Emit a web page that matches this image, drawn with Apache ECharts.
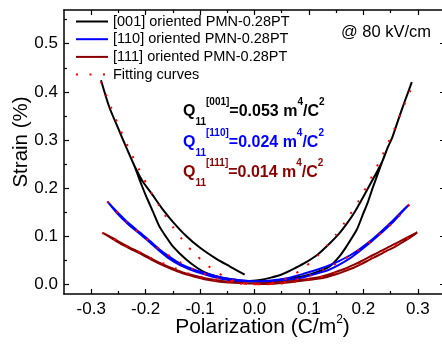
<!DOCTYPE html>
<html>
<head>
<meta charset="utf-8">
<script src="https://cdn.jsdelivr.net/npm/echarts@6/dist/echarts.min.js"></script>
<style>html,body{margin:0;padding:0;background:#fff}#c{width:442px;height:345px}</style>
</head>
<body>
<div id="c"></div>
<script>
// ---- tick labels ----
const xTickLabels = [-0.3, -0.2, -0.1, 0, 0.1, 0.2, 0.3];
const xMinorTicks = [-0.25, -0.15, -0.05, 0.05, 0.15, 0.25];
const yTickLabels = [0, 0.1, 0.2, 0.3, 0.4, 0.5];
const yMinorTicks = [0.05, 0.15, 0.25, 0.35, 0.45, 0.55];

// ---- legend names ----
const seriesNames = ['[001] oriented PMN-0.28PT', '[110] oriented PMN-0.28PT', '[111] oriented PMN-0.28PT', 'Fitting curves'];

// ---- measured strain loops [P (C/m2), strain (%)] ----
const loop001 = [
  [-0.018,0.020],[-0.045,0.037],[-0.070,0.053],[-0.100,0.076],[-0.125,0.100],[-0.150,0.130],[-0.170,0.158],[-0.190,0.190],
  [-0.205,0.213],[-0.220,0.245],[-0.235,0.283],[-0.250,0.323],[-0.267,0.369],[-0.282,0.424],
  [-0.267,0.369],[-0.250,0.323],[-0.235,0.283],[-0.220,0.244],[-0.208,0.208],[-0.199,0.183],[-0.187,0.152],[-0.175,0.121],
  [-0.162,0.098],[-0.150,0.079],[-0.126,0.052],[-0.105,0.034],[-0.089,0.024],[-0.065,0.015],[-0.046,0.011],[-0.025,0.008],
  [-0.009,0.007],[0.010,0.006],[0.030,0.007],[0.050,0.010],[0.075,0.014],[0.100,0.020],[0.120,0.028],[0.138,0.037],
  [0.156,0.058],[0.169,0.079],[0.188,0.114],[0.199,0.145],[0.208,0.170],[0.217,0.200],[0.226,0.228],[0.235,0.256],
  [0.245,0.285],[0.253,0.305],[0.266,0.348],[0.277,0.383],[0.289,0.420],
  [0.277,0.383],[0.266,0.348],[0.253,0.305],[0.245,0.285],[0.235,0.256],[0.224,0.232],[0.212,0.207],[0.199,0.180],
  [0.185,0.152],[0.169,0.125],[0.155,0.105],[0.138,0.085],[0.116,0.062],[0.095,0.046],[0.075,0.034],[0.051,0.021],
  [0.030,0.014],[0.010,0.009],[-0.009,0.007],[-0.030,0.006],[-0.050,0.006]
];
const loop110 = [
  [-0.270,0.172],[-0.251,0.149],[-0.233,0.129],[-0.211,0.108],[-0.193,0.091],[-0.175,0.073],[-0.156,0.057],[-0.135,0.042],
  [-0.107,0.029],[-0.080,0.020],[-0.058,0.014],[-0.030,0.009],[-0.009,0.007],[0.010,0.006],
  [0.030,0.005],[0.060,0.009],[0.090,0.015],[0.119,0.024],[0.138,0.031],[0.156,0.041],[0.175,0.054],[0.194,0.070],
  [0.215,0.089],[0.233,0.107],[0.253,0.128],[0.271,0.150],[0.284,0.166],
  [0.271,0.152],[0.253,0.131],[0.233,0.110],[0.215,0.092],[0.194,0.074],[0.175,0.060],[0.156,0.049],[0.138,0.040],
  [0.119,0.032],[0.090,0.022],[0.060,0.013],[0.030,0.008],[0.000,0.006],[-0.030,0.007],
  [-0.058,0.011],[-0.080,0.017],[-0.107,0.026],[-0.135,0.039],[-0.156,0.053],[-0.175,0.070],[-0.193,0.088],
  [-0.211,0.105],[-0.233,0.126],[-0.251,0.146],[-0.270,0.172]
];
const loop111 = [
  [-0.279,0.107],[-0.260,0.096],[-0.242,0.084],[-0.223,0.073],[-0.205,0.063],[-0.187,0.052],[-0.169,0.042],[-0.150,0.033],
  [-0.132,0.025],[-0.110,0.018],[-0.089,0.012],[-0.067,0.008],[-0.046,0.005],[-0.025,0.003],[-0.009,0.002],[0.010,0.001],
  [0.030,0.001],[0.050,0.003],[0.070,0.005],[0.090,0.008],[0.119,0.012],[0.135,0.016],[0.150,0.021],[0.165,0.027],
  [0.181,0.034],[0.196,0.042],[0.211,0.051],[0.227,0.060],[0.242,0.069],[0.258,0.078],[0.273,0.088],[0.287,0.098],[0.299,0.108],
  [0.287,0.101],[0.273,0.093],[0.258,0.084],[0.242,0.075],[0.227,0.066],[0.211,0.057],[0.196,0.048],[0.181,0.040],
  [0.165,0.032],[0.150,0.026],[0.135,0.020],[0.119,0.015],[0.090,0.010],[0.070,0.007],[0.050,0.005],[0.030,0.003],
  [0.000,0.002],[-0.030,0.003],[-0.046,0.004],[-0.067,0.006],[-0.089,0.010],[-0.110,0.016],[-0.132,0.023],[-0.150,0.031],
  [-0.169,0.040],[-0.187,0.050],[-0.205,0.061],[-0.223,0.071],[-0.242,0.082],[-0.260,0.094],[-0.279,0.107]
];

// ---- fitting curves ----
const fit001 = [
  [-0.282,0.421],[-0.28,0.415],[-0.26,0.358],[-0.24,0.305],[-0.22,0.257],[-0.20,0.212],[-0.18,0.172],[-0.16,0.136],
  [-0.14,0.104],[-0.12,0.076],[-0.10,0.053],[-0.08,0.034],[-0.06,0.019],[-0.04,0.008],[-0.02,0.002],[0.00,0.000],
  [0.02,0.001],[0.04,0.005],[0.06,0.013],[0.08,0.026],[0.10,0.043],[0.12,0.064],[0.14,0.090],[0.16,0.119],
  [0.18,0.153],[0.20,0.191],[0.22,0.234],[0.24,0.280],[0.26,0.331],[0.28,0.386],[0.292,0.415]
];
const fit110 = [
  [-0.27,0.172],[-0.25,0.147],[-0.23,0.125],[-0.21,0.105],[-0.19,0.087],[-0.17,0.070],[-0.15,0.055],[-0.13,0.042],
  [-0.11,0.030],[-0.09,0.021],[-0.07,0.013],[-0.05,0.008],[-0.03,0.004],[-0.01,0.001],[0.01,0.000],[0.03,0.001],
  [0.05,0.004],[0.07,0.008],[0.09,0.014],[0.11,0.022],[0.13,0.032],[0.15,0.043],[0.17,0.056],[0.19,0.070],
  [0.21,0.086],[0.23,0.104],[0.25,0.124],[0.27,0.147],[0.285,0.166]
];
const fit111 = [
  [-0.28,0.107],[-0.26,0.095],[-0.24,0.083],[-0.22,0.072],[-0.20,0.060],[-0.18,0.050],[-0.16,0.040],[-0.14,0.031],
  [-0.12,0.022],[-0.10,0.016],[-0.08,0.010],[-0.06,0.006],[-0.04,0.003],[-0.02,0.001],[0.00,0.000],[0.02,0.000],
  [0.04,0.001],[0.06,0.003],[0.08,0.006],[0.10,0.010],[0.12,0.015],[0.14,0.021],[0.16,0.028],[0.18,0.036],
  [0.20,0.047],[0.22,0.058],[0.24,0.071],[0.26,0.082],[0.28,0.095],[0.30,0.109]
];

const FONT = "'Liberation Sans', Arial, sans-serif";
const colors = ['#000000', '#0000ff', '#8b0000', '#ff0000'];

function fmt(v){ return (Math.abs(v) < 1e-9 ? 0 : v).toFixed(1); }

const axLine = {show:true, onZero:false, lineStyle:{color:'#000', width:1.5}};
function xAx(pos, ticks, len, lineShow, labels){
  return {
    type:'value', position:pos, min:-0.35, max:0.35, nameMoveOverlap:false,
    axisLine: lineShow ? axLine : {show:false, onZero:false},
    axisTick:{show:true, inside:true, length:len, customValues:ticks, lineStyle:{color:'#000', width:1.2}},
    axisLabel: labels ? {show:true, customValues:ticks, formatter:fmt, fontSize:17, fontFamily:FONT, color:'#000', margin:7} : {show:false},
    splitLine:{show:false}
  };
}
function yAx(pos, ticks, len, lineShow, labels){
  return {
    type:'value', position:pos, min:-0.02, max:0.57, nameMoveOverlap:false,
    axisLine: lineShow ? axLine : {show:false, onZero:false},
    axisTick:{show:true, inside:true, length:len, customValues:ticks, lineStyle:{color:'#000', width:1.2}},
    axisLabel: labels ? {show:true, customValues:ticks, formatter:fmt, fontSize:17, fontFamily:FONT, color:'#000', margin:6} : {show:false},
    splitLine:{show:false}
  };
}

const xAxes = [
  xAx('bottom', xTickLabels, 5, true, true),
  xAx('bottom', xMinorTicks, 3, false, false),
  xAx('top', xTickLabels, 5, true, false),
  xAx('top', xMinorTicks, 3, false, false)
];
Object.assign(xAxes[0], {
  name:'Polarization (C/m{sup|2})', nameLocation:'middle', nameGap:20,
  nameTextStyle:{fontSize:21, fontFamily:FONT, color:'#000', lineHeight:26, padding:[0,0,0,16],
    rich:{sup:{fontSize:12, fontFamily:FONT, color:'#000', verticalAlign:'top', lineHeight:10}}}
});
const yAxes = [
  yAx('left', yTickLabels, 5, true, true),
  yAx('left', yMinorTicks, 3, false, false),
  yAx('right', yTickLabels, 5, true, false),
  yAx('right', yMinorTicks, 3, false, false)
];
Object.assign(yAxes[0], {
  name:'Strain (%)', nameLocation:'middle', nameGap:32,
  nameTextStyle:{fontSize:20.5, fontFamily:FONT, color:'#000', padding:[0,0,0,20]}
});

function dataSeries(name, data, color){
  return {name, type:'line', data, xAxisIndex:0, yAxisIndex:0, symbol:'none', showSymbol:false,
    smooth:0.25, lineStyle:{color, width:2}, itemStyle:{color}, z:2};
}
function fitSeries(data){
  return {name:seriesNames[3], type:'line', data, xAxisIndex:0, yAxisIndex:0, symbol:'none', showSymbol:false,
    smooth:true, lineStyle:{color:colors[3], width:2, type:[2, 11.5], cap:'butt'}, itemStyle:{color:colors[3]}, z:5};
}

function qText(label, value){
  return '{q|Q}{sub|11}{sup|' + label + '}{m|=' + value + ' m}{sup|4}{m|/C}{sup|2}';
}
function qRich(color){
  return {
    q:{fontSize:16, fontWeight:'bold', fontFamily:FONT, fill:color, color:color, lineHeight:30, verticalAlign:'middle'},
    m:{fontSize:16, fontWeight:'bold', fontFamily:FONT, fill:color, color:color, lineHeight:30, verticalAlign:'middle'},
    sub:{fontSize:10, fontWeight:'bold', fontFamily:FONT, fill:color, color:color, lineHeight:10, verticalAlign:'bottom'},
    sup:{fontSize:10, fontWeight:'bold', fontFamily:FONT, fill:color, color:color, lineHeight:20, verticalAlign:'top'}
  };
}
const qRows = [['[001]','0.053',colors[0],112],['[110]','0.024',colors[1],143],['[111]','0.014',colors[2],173]];

const chart = echarts.init(document.getElementById('c'), null, {renderer:'canvas'});
chart.setOption({
  animation:false,
  backgroundColor:'#fff',
  grid:{left:64, right:-3, top:10, bottom:51, containLabel:false, outerBoundsMode:'none'},
  xAxis:xAxes,
  yAxis:yAxes,
  legend:{
    orient:'vertical', left:75, top:14, padding:0, itemWidth:32, itemHeight:14, itemGap:2.7,
    data:seriesNames,
    itemStyle:{opacity:0},
    textStyle:{fontSize:14.5, fontFamily:FONT, color:'#000'}
  },
  series:[
    dataSeries(seriesNames[0], loop001, colors[0]),
    dataSeries(seriesNames[1], loop110, colors[1]),
    dataSeries(seriesNames[2], loop111, colors[2]),
    fitSeries(fit001), fitSeries(fit110), fitSeries(fit111)
  ],
  graphic:[
    {type:'text', x:341, y:32, z:10, style:{text:'@ 80 kV/cm', font:'16.5px ' + FONT, fill:'#000', verticalAlign:'middle'}}
  ].concat(qRows.map(r => ({type:'text', x:183, y:r[3], z:10,
    style:{text:qText(r[0], r[1]), rich:qRich(r[2]), fill:r[2], verticalAlign:'middle', align:'left'}})))
});
</script>
</body>
</html>
